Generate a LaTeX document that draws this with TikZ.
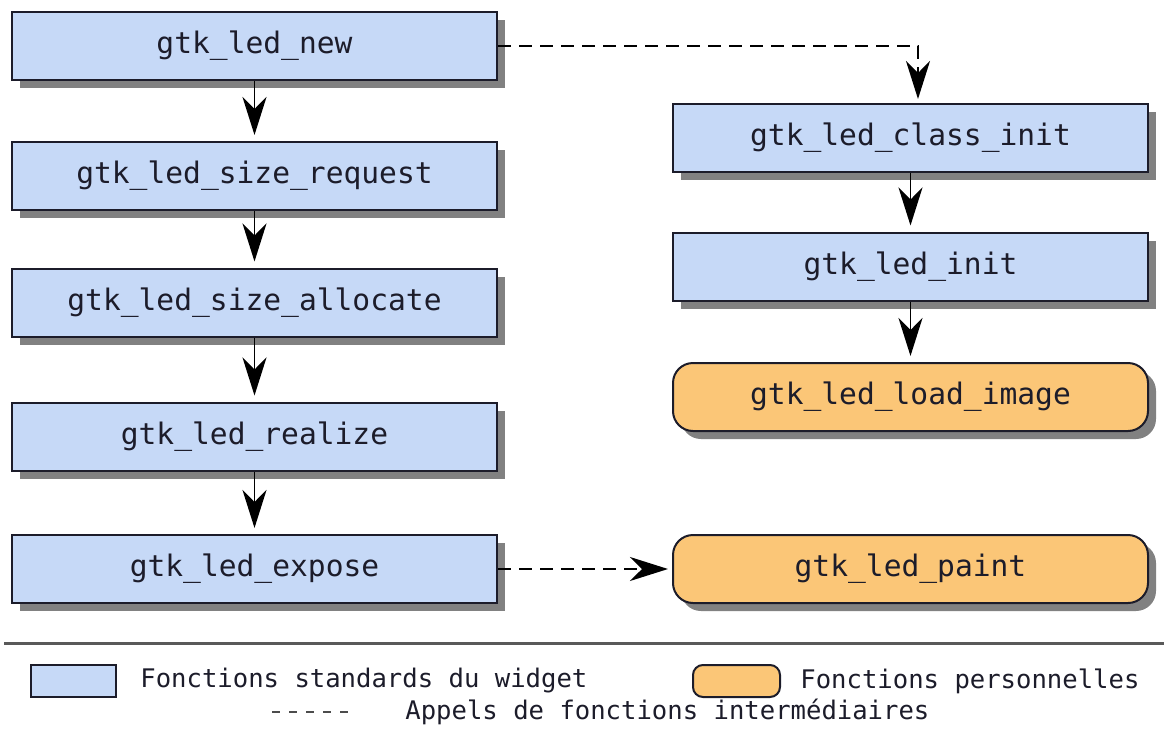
\documentclass[tikz,border=0pt]{standalone}
\usepackage{fontspec}
\setmonofont{DejaVu Sans Mono}
\usetikzlibrary{arrows.meta,shadows}

\definecolor{stdblue}{HTML}{C6D9F7}
\definecolor{persorange}{HTML}{FBC677}
\definecolor{edgeink}{HTML}{1C1C2A}

\begin{document}
\begin{tikzpicture}[x=0.5pt, y=-0.5pt, >={Stealth[length=19pt,width=12pt,inset=6pt]},
    funcbox/.style={draw=edgeink, line width=1pt, text=edgeink,
        font=\ttfamily\fontsize{14.8}{18}\selectfont, inner sep=0pt,
        minimum height=34pt,
        drop shadow={shadow xshift=4pt, shadow yshift=-4pt, fill=black!55, opacity=0.9}},
    stdfunc/.style={funcbox, fill=stdblue},
    persfunc/.style={funcbox, fill=persorange, rounded corners=10pt},
    call/.style={->, line width=0.8pt, black, shorten >=3pt},
    subcall/.style={->, line width=0.8pt, black, shorten >=2pt, dash pattern=on 6.5pt off 4pt},
    legendtext/.style={font=\ttfamily\fontsize{12.8}{15}\selectfont, text=edgeink, anchor=west, inner sep=0pt}]
    \useasboundingbox (0,0) rectangle (1164,740);

    % colonne de gauche
    \node[stdfunc, minimum width=242.5pt] (new) at (254.5,46) {gtk\_led\_new};
    \node[stdfunc, minimum width=242.5pt] (sizeReq) at (254.5,176) {gtk\_led\_size\_request};
    \node[stdfunc, minimum width=242.5pt] (sizeAlloc) at (254.5,302.5) {gtk\_led\_size\_allocate};
    \node[stdfunc, minimum width=242.5pt] (realize) at (254.5,436.5) {gtk\_led\_realize};
    \node[stdfunc, minimum width=242.5pt] (expose) at (254.5,569) {gtk\_led\_expose};

    % colonne de droite
    \node[stdfunc, minimum width=237.5pt] (classInit) at (910.5,138) {gtk\_led\_class\_init};
    \node[stdfunc, minimum width=237.5pt] (init) at (910.5,266.5) {gtk\_led\_init};
    \node[persfunc, minimum width=237.5pt] (loadImage) at (910.5,397) {gtk\_led\_load\_image};
    \node[persfunc, minimum width=237.5pt] (paint) at (910.5,569) {gtk\_led\_paint};

    \coordinate (turn) at (918,46);

    \draw[call] (new) -- (sizeReq);
    \draw[call] (sizeReq) -- (sizeAlloc);
    \draw[call] (sizeAlloc) -- (realize);
    \draw[call] (realize) -- (expose);
    \draw[call] (classInit) -- (init);
    \draw[call] (init) -- (loadImage);

    \draw[subcall] (new.east) -- (turn) -- (turn |- classInit.north);
    \draw[subcall] (expose) -- (paint);

    % legende
    \draw[line width=1.5pt, black!65] (4,643) -- (1164,643);

    \node[draw=edgeink, line width=1pt, fill=stdblue, minimum width=42.5pt, minimum height=16pt,
        inner sep=0pt] (legStd) at (73.5,681) {};
    \node[legendtext] (legStdText) at (140,681) {Fonctions standards du widget};
    \node[draw=edgeink, line width=1pt, fill=persorange, rounded corners=5pt, minimum width=43.5pt,
        minimum height=16pt, inner sep=0pt] (legPers) at (736.5,681) {};
    \node[legendtext] (legPersText) at (800,681) {Fonctions personnelles};

    \coordinate (legDashStart) at (272,712);
    \node[legendtext] (legCallText) at (405,712) {Appels de fonctions intermédiaires};
    \draw[line width=1pt, black!70, dash pattern=on 4pt off 4.5pt] (legDashStart) -- (350,712);
\end{tikzpicture}
\end{document}
